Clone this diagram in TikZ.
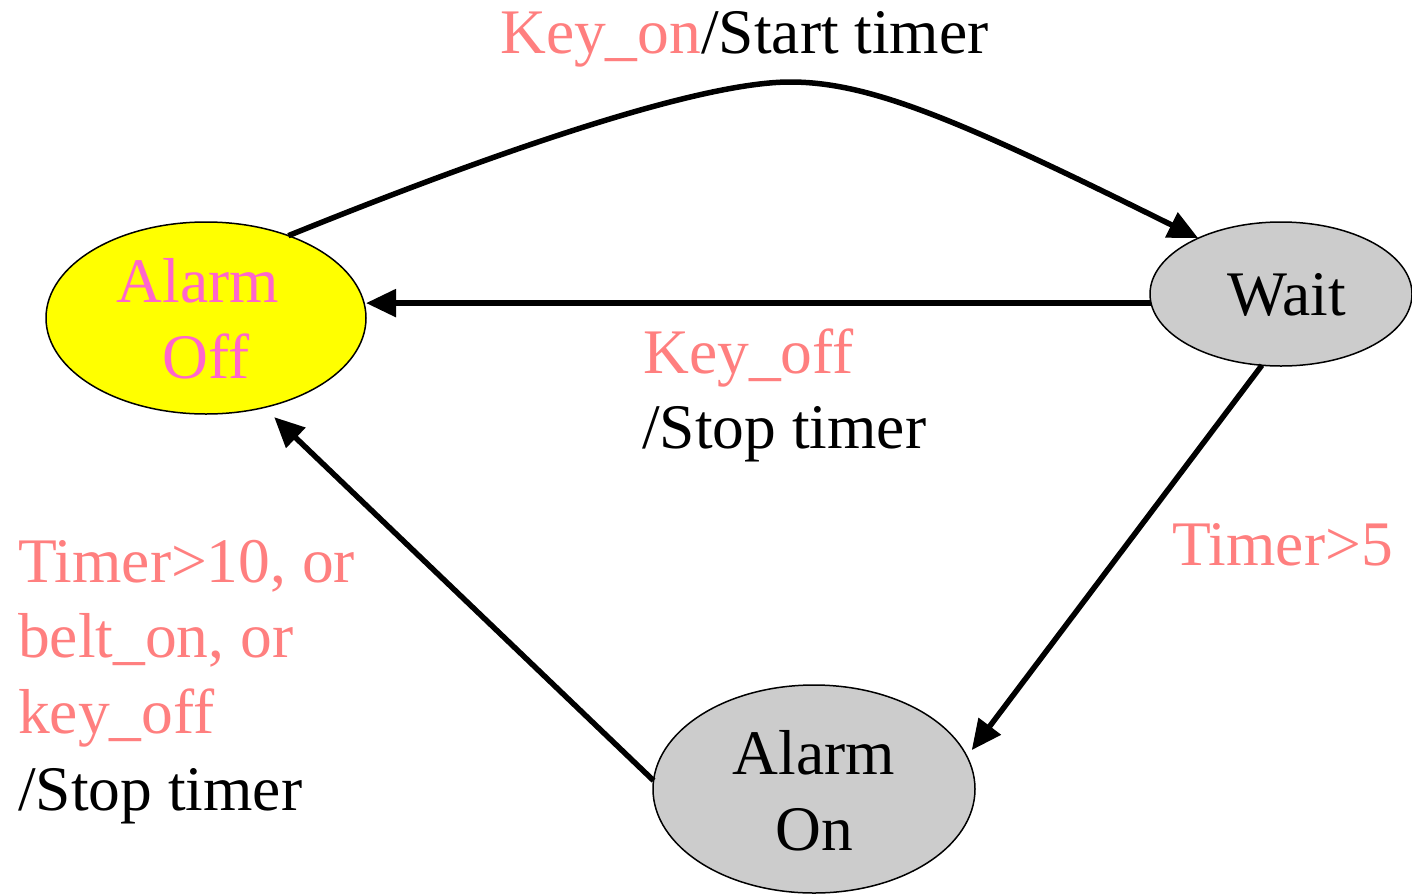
\documentclass[tikz,border=0pt]{standalone}
\usepackage{fontspec}
\setmainfont{Liberation Serif}
\usetikzlibrary{arrows.meta,shapes.geometric,calc}
\definecolor{condpink}{HTML}{FF7F7F}
\definecolor{offpink}{HTML}{FF66CC}
\definecolor{stategray}{HTML}{CCCCCC}
\definecolor{offyellow}{HTML}{FFFF00}
% two centred lines whose baseline is the last line
\newcommand{\twolines}[2]{\begin{tabular}[b]{@{}c@{}}#1\\#2\end{tabular}}
\begin{document}
\begin{tikzpicture}[x=1pt,y=-1pt,
  every node/.style={font=\fontsize{63.5}{75.5}\selectfont},
  state/.style={ellipse, draw, line width=1.5pt, inner sep=0pt, outer sep=0pt,
    text depth=0pt},
  trans/.style={line width=5.5pt, -{Triangle[length=30pt,width=27pt]}},
  cond/.style={text=condpink, inner sep=0pt, anchor=base west},
  act/.style={text=black, inner sep=0pt, anchor=base west}]
\useasboundingbox (0,0) rectangle (1412,894);

% states
\node[state, fill=offyellow, text=offpink, minimum width=320pt, minimum height=192pt,
  text height=120pt] (alarmoff) at (206,318) {\twolines{Alarm\hspace*{.25em}}{Off}};
\node[state, fill=stategray, minimum width=262pt, minimum height=144pt,
  text height=43pt] (wait) at (1281,294) {\hspace*{12pt}Wait};
\node[state, fill=stategray, minimum width=322pt, minimum height=208pt,
  text height=122pt] (alarmon) at (814,789) {\twolines{Alarm}{On}};

% transitions
\coordinate (apex) at (790,82);
\draw[trans] (alarmoff.45) .. controls (500,150) and (700,82) .. (apex)
  .. controls (870,82) and (960,120) .. (wait.146);
\draw[trans] (wait.184) -- (wait.184 -| alarmoff.east);
\draw[trans, shorten >=8pt] (wait.255) -- (alarmon.12);
\draw[trans, shorten >=14pt] (alarmon.177) -- (alarmoff.303);

% transition labels
\node[cond] (keyon) at (500,53) {Key\_on\textcolor{black}{/Start timer}};
\node[cond] (keyoff) at (643,373) {Key\_off};
\node[act] (keyoffact) at (642,448) {/Stop timer};
\node[cond] (timerfive) at (1172,565) {Timer>5};
\node[cond] (resetA) at (18,582) {Timer>10, or};
\node[cond] (resetB) at (18,657) {belt\_on, or};
\node[cond] (resetC) at (18,733) {key\_off};
\node[act] (resetD) at (18,810) {/Stop timer};
\end{tikzpicture}
\end{document}
